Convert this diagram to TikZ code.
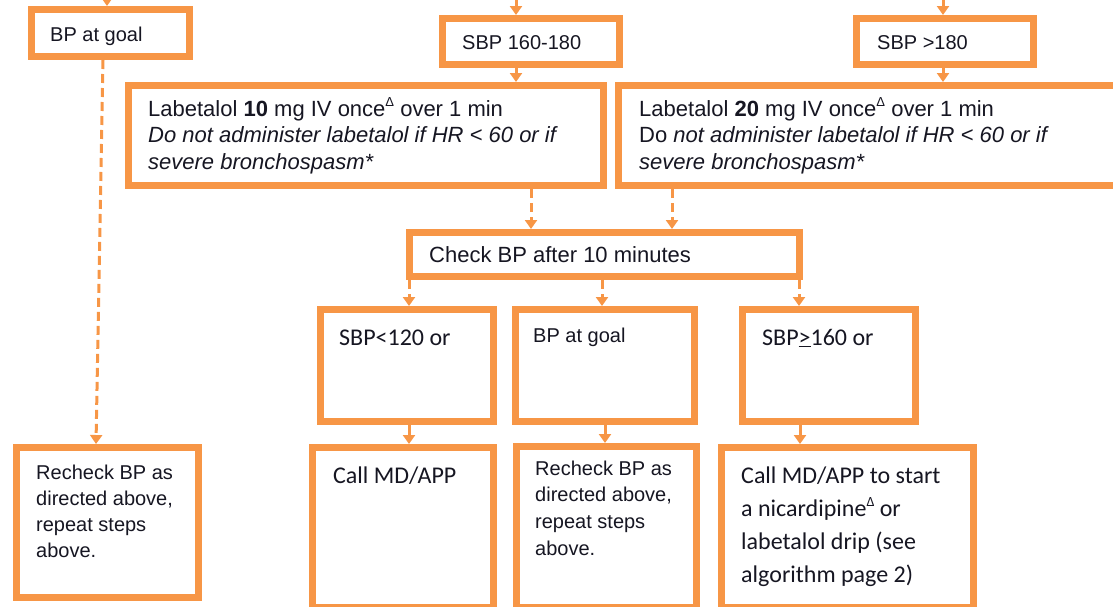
\documentclass[tikz,border=0pt]{standalone}
\usepackage{fontspec}
\setmainfont{Liberation Sans}
\newfontfamily\calib{Carlito}
\usetikzlibrary{arrows.meta}
\definecolor{boxorange}{RGB}{247,150,70}
\definecolor{ink}{RGB}{22,22,34}
% top-aligned block of lines whose baseline is the first line's baseline
\newcommand{\tlines}[2]{\parbox[t]{#1}{\raggedright #2}}
% small raised delta mark
\newcommand{\dmark}{\raisebox{0.42em}{\fontsize{13}{13}\selectfont Δ}}

\begin{document}
\begin{tikzpicture}[x=1pt,y=-1pt,
  box/.style={draw=boxorange, line width=7pt, fill=white, rectangle, inner sep=0pt},
  txt/.style={anchor=base west, inner sep=0pt, text=ink},
  solidarrow/.style={draw=boxorange, line width=3pt, -{Triangle[width=12pt,length=9pt]}},
  dasharrow/.style={solidarrow, dash pattern=on 9pt off 5pt},
]
\useasboundingbox (0,0) rectangle (1113,606);

% ---- boxes ----
\node[box, minimum width=158pt, minimum height=47pt]  (goalTop) at (110.5,33)  {};
\node[box, minimum width=177pt, minimum height=46pt]  (midRange) at (531,41.5)  {};
\node[box, minimum width=177pt, minimum height=46pt]  (highRange) at (945,41.5) {};
\node[box, minimum width=475pt, minimum height=100pt] (labTen) at (366,135.5)   {};
\node[box, minimum width=503pt, minimum height=100pt] (labTwenty) at (870,135.5) {};
\node[box, minimum width=390pt, minimum height=44pt]  (check) at (604.5,254.5)  {};
\node[box, minimum width=173pt, minimum height=112pt] (low) at (407,365.5)      {};
\node[box, minimum width=179pt, minimum height=112pt] (goalMid) at (605,365.5)  {};
\node[box, minimum width=173pt, minimum height=112pt] (high) at (829,365.5)     {};
\node[box, minimum width=182pt, minimum height=150pt] (recheckL) at (107.5,522.5) {};
\node[box, minimum width=181pt, minimum height=160pt] (callMD) at (403,527.5)   {};
\node[box, minimum width=180pt, minimum height=161pt] (recheckM) at (606.5,527) {};
\node[box, minimum width=252pt, minimum height=160pt] (callDrip) at (847.5,527.5) {};

% ---- texts ----
\node[txt, font={\fontsize{20}{23}\selectfont}] (tGoalTop) at (50,41) {BP at goal};
\node[txt, font={\fontsize{20}{23}\selectfont}] (tMid) at (462,49) {SBP 160-180};
\node[txt, font={\fontsize{20}{23}\selectfont}] (tHigh) at (877,49) {SBP >180};
\node[txt, font={\fontsize{22}{26.5}\selectfont}] (tLabTen) at (148,116)
  {\tlines{455pt}{Labetalol \textbf{10} mg IV once\dmark\ over 1 min\\
   \textit{Do not administer labetalol if HR < 60 or if}\\
   \textit{severe bronchospasm*}}};
\node[txt, font={\fontsize{22}{26.5}\selectfont}] (tLabTwenty) at (639,116)
  {\tlines{455pt}{Labetalol \textbf{20} mg IV once\dmark\ over 1 min\\
   Do \textit{not administer labetalol if HR < 60 or if}\\
   \textit{severe bronchospasm*}}};
\node[txt, font={\fontsize{22}{26}\selectfont}] (tCheck) at (429,262) {Check BP after 10 minutes};
\node[txt, font={\calib\fontsize{24}{29}\selectfont}] (tLow) at (339,345) {SBP<120 or};
\node[txt, font={\fontsize{20}{24}\selectfont}] (tGoalMid) at (533,342) {BP at goal};
\node[txt, font={\calib\fontsize{24}{29}\selectfont}] (tHighB) at (762,345) {SBP\underline{>}160 or};
\node[txt, font={\fontsize{20}{26}\selectfont}] (tRecheckL) at (36,479)
  {\tlines{160pt}{Recheck BP as\\ directed above,\\ repeat steps\\ above.}};
\node[txt, font={\calib\fontsize{24}{29}\selectfont}] (tCall) at (333,483) {Call MD/APP};
\node[txt, font={\fontsize{20}{26.7}\selectfont}] (tRecheckM) at (535,475)
  {\tlines{160pt}{Recheck BP as\\ directed above,\\ repeat steps\\ above.}};
\node[txt, font={\calib\fontsize{24}{33.3}\selectfont}] (tDrip) at (741,483)
  {\tlines{230pt}{Call MD/APP to start\\ a nicardipine\raisebox{0.42em}{\fontsize{14}{14}\selectfont Δ} or\\ labetalol drip (see\\ algorithm page 2)}};

% ---- incoming connectors from above ----
\coordinate (inGoal) at (107,-10);
\coordinate (inMid) at (516,-10);
\coordinate (inHigh) at (943,-10);
\draw[solidarrow] (inGoal) -- ([xshift=-3.5pt]goalTop.north);
\draw[solidarrow] (inMid) -- ([xshift=-15pt]midRange.north);
\draw[solidarrow] (inHigh) -- ([xshift=-2pt]highRange.north);

% ---- connectors ----
\draw[solidarrow] ([xshift=-15pt]midRange.south) -- ([xshift=150pt]labTen.north);
\draw[solidarrow] ([xshift=-2pt]highRange.south) -- ([xshift=73pt]labTwenty.north);
\draw[dasharrow] ([xshift=165pt]labTen.south) -- ([xshift=-73.5pt]check.north);
\draw[dasharrow] ([xshift=-198pt]labTwenty.south) -- ([xshift=67.5pt]check.north);
\draw[dasharrow] ([xshift=-195.5pt]check.south) -- ([xshift=2pt]low.north);
\draw[dasharrow] ([xshift=-2.5pt]check.south) -- ([xshift=-3pt]goalMid.north);
\draw[dasharrow] ([xshift=194.5pt]check.south) -- ([xshift=-30pt]high.north);
\draw[solidarrow] ([xshift=2pt]low.south) -- ([xshift=6pt]callMD.north);
\draw[solidarrow] (goalMid.south) -- ([xshift=-1.5pt]recheckM.north);
\draw[solidarrow] ([xshift=-29pt]high.south) -- ([xshift=-47.5pt]callDrip.north);
\draw[dasharrow] ([xshift=-7.5pt]goalTop.south) -- ([xshift=-11.5pt]recheckL.north);
\end{tikzpicture}
\end{document}
